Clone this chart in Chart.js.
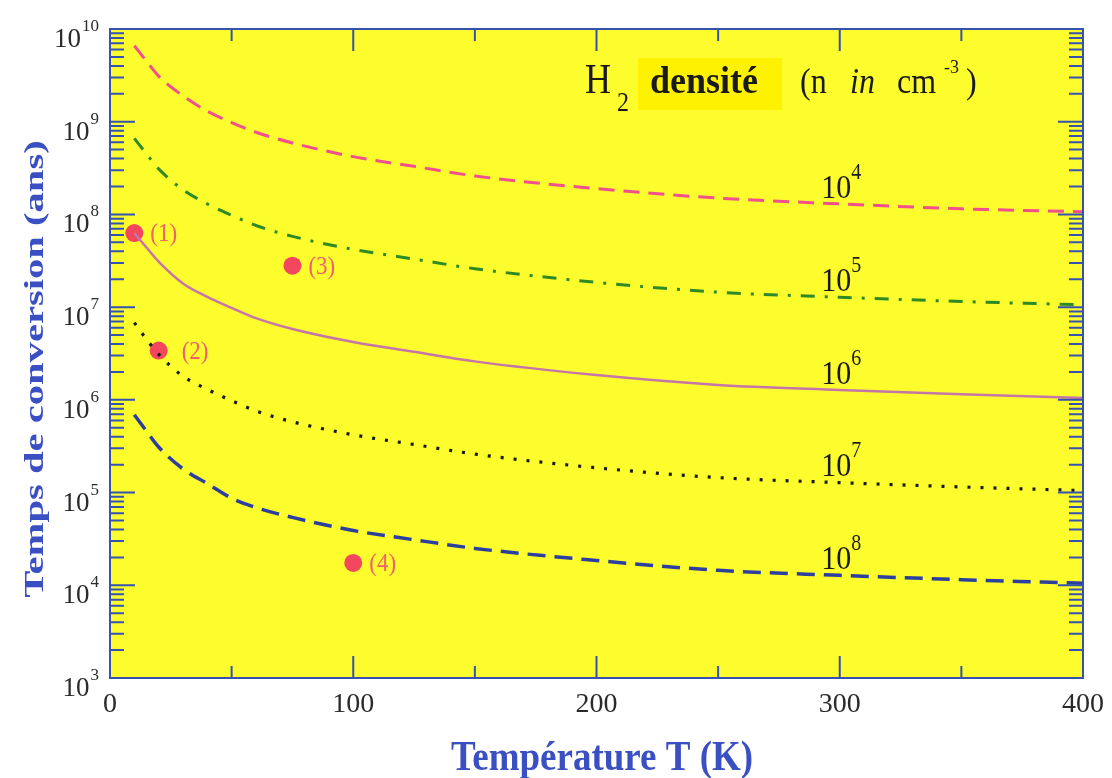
<!DOCTYPE html>
<html><head><meta charset="utf-8">
<script src="https://cdn.jsdelivr.net/npm/chart.js@4/dist/chart.umd.min.js"></script>
<style>html,body{margin:0;padding:0;background:#fff;}#wrap{width:1112px;height:778px;position:relative;}</style>
</head><body><div id="wrap"><canvas id="c" width="1112" height="778"></canvas></div>
<script>
// ---- data ----
const temperatures = [10, 15, 20, 30, 40, 50, 60, 75, 100, 125, 150, 200, 250, 300, 350, 400];
const timeN1e4 = [6.6e9, 4.5e9, 3.1e9, 1.9e9, 1.3e9, 9.8e8, 7.7e8, 5.9e8, 4.2e8, 3.3e8, 2.6e8, 1.9e8, 1.5e8, 1.3e8, 1.15e8, 1.07e8];
const timeN1e5 = [6.6e8, 4.5e8, 3.1e8, 1.85e8, 1.3e8, 9.8e7, 7.6e7, 5.8e7, 4.2e7, 3.3e7, 2.6e7, 1.85e7, 1.45e7, 1.28e7, 1.15e7, 1.06e7];
const timeN1e6 = [6.3e7, 4.4e7, 3.1e7, 1.8e7, 1.29e7, 9.8e6, 7.6e6, 5.8e6, 4.2e6, 3.3e6, 2.6e6, 1.85e6, 1.45e6, 1.28e6, 1.15e6, 1.05e6];
const timeN1e7 = [6.8e6, 4.5e6, 3.1e6, 1.8e6, 1.3e6, 9.8e5, 7.6e5, 5.8e5, 4.2e5, 3.3e5, 2.6e5, 1.85e5, 1.45e5, 1.28e5, 1.15e5, 1.05e5];
const timeN1e8 = [6.9e5, 4.6e5, 3.1e5, 1.8e5, 1.25e5, 8.7e4, 6.9e4, 5.4e4, 3.9e4, 3.1e4, 2.5e4, 1.85e4, 1.45e4, 1.28e4, 1.15e4, 1.05e4];
const densityExponents = ['4', '5', '6', '7', '8'];
const densityLabelT = 292;
const densityLabelValues = [1.5e8, 1.5e7, 1.5e6, 1.5e5, 1.5e4];
const sampleT = [10, 20, 75, 100];
const sampleTime = [6.3e7, 3.4e6, 2.8e7, 1.74e4];
const sampleLabels = ['(1)', '(2)', '(3)', '(4)'];
const xMajorTicks = [0, 100, 200, 300, 400];
const xMinorTicks = [50, 150, 250, 350];
const yDecades = [3, 4, 5, 6, 7, 8, 9, 10];
const yMinorMultipliers = [2, 3, 4, 5, 6, 7, 8, 9];

const SERIF = '"Liberation Serif", "DejaVu Serif", serif';
const BLUE = '#3a4fc2';
const AXIS = '#3552b0';
const PT = '#f2475c';
const PTLABEL = '#f0606e';

function pts(vals) { return temperatures.map((t, i) => ({ x: t, y: vals[i] })); }

function txt(ctx, s, x, y, font, color, sy, align) {
  ctx.save();
  ctx.font = font; ctx.fillStyle = color; ctx.textAlign = align || 'left'; ctx.textBaseline = 'alphabetic';
  ctx.translate(x, y); ctx.scale(1, sy || 1); ctx.fillText(s, 0, 0);
  ctx.restore();
}

const deco = {
  id: 'deco',
  beforeDatasetsDraw(chart) {
    const { ctx, chartArea: a } = chart;
    ctx.save();
    ctx.fillStyle = '#fdfd2e';
    ctx.fillRect(a.left, a.top, a.right - a.left, a.bottom - a.top);
    ctx.fillStyle = '#fff200';
    ctx.fillRect(638, 58, 144, 52);
    ctx.restore();
    txt(ctx, 'H', 585, 93, '36px ' + SERIF, '#1a1a1a', 1.15);
    txt(ctx, '2', 617, 111, '24px ' + SERIF, '#1a1a1a', 1.1);
    txt(ctx, 'densité', 650, 93, 'bold 36px ' + SERIF, '#1a1a1a', 1.05);
    txt(ctx, '(n', 800, 93, '32px ' + SERIF, '#1a1a1a', 1.1);
    txt(ctx, 'in', 850, 93, 'italic 32px ' + SERIF, '#1a1a1a', 1.1);
    txt(ctx, 'cm', 897, 93, '32px ' + SERIF, '#1a1a1a', 1.1);
    txt(ctx, '-3', 944, 73, '18px ' + SERIF, '#1a1a1a', 1.1);
    txt(ctx, ')', 966, 93, '32px ' + SERIF, '#1a1a1a', 1.1);
  },
  afterDatasetsDraw(chart) {
    const { ctx, chartArea: a } = chart;
    const xs = chart.scales.x, ys = chart.scales.y;
    ctx.save();
    ctx.strokeStyle = AXIS; ctx.lineWidth = 2;
    ctx.strokeRect(a.left, a.top, a.right - a.left, a.bottom - a.top);
    ctx.beginPath();
    xMajorTicks.forEach(v => { const px = xs.getPixelForValue(v);
      ctx.moveTo(px, a.bottom); ctx.lineTo(px, a.bottom - 22);
      ctx.moveTo(px, a.top); ctx.lineTo(px, a.top + 22); });
    xMinorTicks.forEach(v => { const px = xs.getPixelForValue(v);
      ctx.moveTo(px, a.bottom); ctx.lineTo(px, a.bottom - 12);
      ctx.moveTo(px, a.top); ctx.lineTo(px, a.top + 12); });
    yDecades.forEach((d, i) => {
      const py = ys.getPixelForValue(Math.pow(10, d));
      ctx.moveTo(a.left, py); ctx.lineTo(a.left + 25, py);
      ctx.moveTo(a.right, py); ctx.lineTo(a.right - 25, py);
      if (i < yDecades.length - 1) yMinorMultipliers.forEach(m => {
        const pm = ys.getPixelForValue(m * Math.pow(10, d));
        ctx.moveTo(a.left, pm); ctx.lineTo(a.left + 14, pm);
        ctx.moveTo(a.right, pm); ctx.lineTo(a.right - 14, pm);
      });
    });
    ctx.stroke();
    ctx.restore();

    const tickCol = '#2b2b2b';
    yDecades.forEach(d => {
      const py = ys.getPixelForValue(Math.pow(10, d));
      const e = String(d);
      ctx.save(); ctx.font = '17px ' + SERIF; const ew = ctx.measureText(e).width; ctx.restore();
      const right = 99;
      txt(ctx, e, right, py + 2, '17px ' + SERIF, tickCol, 1, 'right');
      txt(ctx, '10', right - ew - 1, py + 18, '27px ' + SERIF, tickCol, 1, 'right');
    });
    xMajorTicks.forEach(v => {
      txt(ctx, String(v), xs.getPixelForValue(v), a.bottom + 34, '28px ' + SERIF, tickCol, 1, 'center');
    });

    densityExponents.forEach((e, i) => {
      const px = xs.getPixelForValue(densityLabelT), py = ys.getPixelForValue(densityLabelValues[i]);
      txt(ctx, '10', px + 1, py, '30px ' + SERIF, '#1a1a1a', 1.15);
      txt(ctx, e, px + 31, py - 19, '20px ' + SERIF, '#1a1a1a', 1.15);
    });

    sampleLabels.forEach((s, i) => {
      const px = xs.getPixelForValue(sampleT[i]), py = ys.getPixelForValue(sampleTime[i]);
      const off = i === 1 ? 23 : 16;
      txt(ctx, s, px + off, py + 8, '23px ' + SERIF, PTLABEL, 1.05);
    });

    txt(ctx, 'Température T (K)', 602, 770, 'bold 37px ' + SERIF, BLUE, 1.12, 'center');
    ctx.save();
    ctx.translate(43, 369); ctx.rotate(-Math.PI / 2); ctx.scale(1.45, 1);
    ctx.font = 'bold 28px ' + SERIF; ctx.fillStyle = BLUE; ctx.textAlign = 'center'; ctx.textBaseline = 'alphabetic';
    ctx.fillText('Temps de conversion (ans)', 0, 0);
    ctx.restore();
  }
};

const lineBase = { fill: false, pointRadius: 0, cubicInterpolationMode: 'monotone', borderCapStyle: 'butt' };

new Chart(document.getElementById('c'), {
  type: 'line',
  data: {
    datasets: [
      { ...lineBase, label: '1e4', data: pts(timeN1e4), borderColor: '#f2508c', borderWidth: 3, borderDash: [16, 9] },
      { ...lineBase, label: '1e5', data: pts(timeN1e5), borderColor: '#2f8a25', borderWidth: 3, borderDash: [14, 10, 3, 10] },
      { ...lineBase, label: '1e6', data: pts(timeN1e6), borderColor: '#c676a6', borderWidth: 2.5 },
      { ...lineBase, label: '1e7', data: pts(timeN1e7), borderColor: '#1a1a1a', borderWidth: 3.2, borderDash: [3, 10] },
      { ...lineBase, label: '1e8', data: pts(timeN1e8), borderColor: '#2c3f9e', borderWidth: 3.5, borderDash: [18, 9] },
      { type: 'scatter', label: 'obs', data: sampleT.map((t, i) => ({ x: t, y: sampleTime[i] })),
        showLine: false, pointRadius: 9, pointHoverRadius: 9, backgroundColor: PT, borderColor: PT, borderWidth: 0, clip: false }
    ]
  },
  options: {
    responsive: false, animation: false, devicePixelRatio: 1,
    layout: { padding: { left: 110, top: 29, right: 29, bottom: 100 } },
    plugins: { legend: { display: false }, tooltip: { enabled: false } },
    scales: {
      x: { type: 'linear', min: 0, max: 400, display: false },
      y: { type: 'logarithmic', min: 1e3, max: 1e10, display: false }
    }
  },
  plugins: [deco]
});
</script></body></html>
